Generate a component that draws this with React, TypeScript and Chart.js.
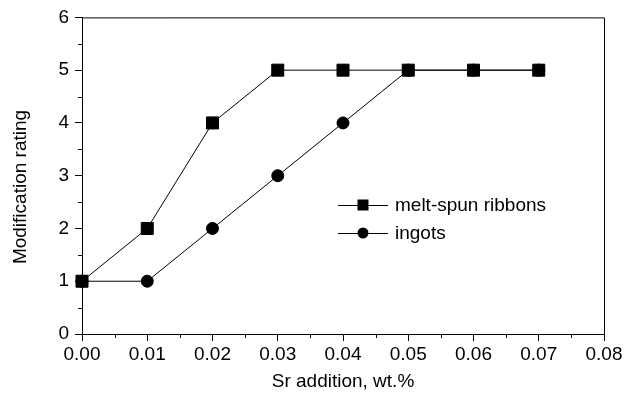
import React, { useEffect, useRef } from "react";
import { Chart, registerables } from "chart.js";

Chart.register(...registerables);

const srAddition = [0.0, 0.01, 0.02, 0.03, 0.04, 0.05, 0.06, 0.07];
const meltSpunRibbons = [1, 2, 4, 5, 5, 5, 5, 5];
const ingots = [1, 1, 2, 3, 4, 5, 5, 5];
const seriesNames = ["melt-spun ribbons", "ingots"];
const xTitle = "Sr addition, wt.%";
const yTitle = "Modification rating";

const FONT = "Arial, 'Liberation Sans', sans-serif";
const INK = "#000";

const framePlugin = {
  id: "frame",
  afterDraw(chart: any) {
    const { ctx, chartArea } = chart;
    const xs = chart.scales.x;
    const ys = chart.scales.y;
    ctx.save();
    ctx.strokeStyle = INK;
    ctx.lineWidth = 1;
    // top and right frame
    ctx.beginPath();
    ctx.moveTo(chartArea.left, chartArea.top + 0.5);
    ctx.lineTo(chartArea.right + 0.5, chartArea.top + 0.5);
    ctx.lineTo(chartArea.right + 0.5, chartArea.bottom);
    ctx.stroke();
    // minor ticks
    ctx.beginPath();
    for (let i = 0; i < 8; i++) {
      const px = Math.round(xs.getPixelForValue(0.005 + i * 0.01)) + 0.5;
      ctx.moveTo(px, chartArea.bottom);
      ctx.lineTo(px, chartArea.bottom + 4);
    }
    for (let i = 0; i < 6; i++) {
      const py = Math.round(ys.getPixelForValue(0.5 + i)) + 0.5;
      ctx.moveTo(chartArea.left, py);
      ctx.lineTo(chartArea.left - 4, py);
    }
    ctx.stroke();

    // y title
    ctx.fillStyle = INK;
    ctx.font = `19px ${FONT}`;
    ctx.textAlign = "center";
    ctx.textBaseline = "middle";
    ctx.translate(21, 187);
    ctx.rotate(-Math.PI / 2);
    ctx.fillText(yTitle, 0, 0);
    ctx.setTransform(1, 0, 0, 1, 0, 0);

    // legend
    const rows = [
      { name: seriesNames[0], style: "rect", y: 205 },
      { name: seriesNames[1], style: "circle", y: 233 },
    ];
    rows.forEach((r) => {
      ctx.beginPath();
      ctx.moveTo(338, r.y + 0.5);
      ctx.lineTo(388, r.y + 0.5);
      ctx.stroke();
      ctx.beginPath();
      if (r.style === "rect") {
        ctx.rect(363 - 5.5, r.y - 5.5, 11, 11);
      } else {
        ctx.arc(363, r.y, 5.5, 0, Math.PI * 2);
      }
      ctx.fill();
      ctx.textAlign = "left";
      ctx.textBaseline = "middle";
      ctx.fillText(r.name, 395, r.y + 1);
    });
    ctx.restore();
  },
};

export default function App() {
  const ref = useRef<HTMLCanvasElement | null>(null);
  useEffect(() => {
    if (!ref.current) return;
    const chart = new Chart(ref.current, {
      type: "line",
      data: {
        datasets: [
          {
            label: seriesNames[0],
            data: srAddition.map((x, i) => ({ x, y: meltSpunRibbons[i] })),
            borderColor: INK,
            backgroundColor: INK,
            borderWidth: 1,
            pointStyle: "rect",
            pointRadius: 8.5,
            pointBorderWidth: 1,
            pointBackgroundColor: INK,
            pointBorderColor: INK,
            clip: false,
          },
          {
            label: seriesNames[1],
            data: srAddition.map((x, i) => ({ x, y: ingots[i] })),
            borderColor: INK,
            backgroundColor: INK,
            borderWidth: 1,
            pointStyle: "circle",
            pointRadius: 6,
            pointBorderWidth: 1,
            pointBackgroundColor: INK,
            pointBorderColor: INK,
            clip: false,
          },
        ],
      },
      options: {
        responsive: false,
        animation: false,
        layout: { padding: { top: 16, right: 31, left: 0, bottom: 0 } },
        plugins: { legend: { display: false }, tooltip: { enabled: false } },
        scales: {
          x: {
            type: "linear",
            min: 0,
            max: 0.08,
            afterFit(scale: any) {
              scale.height = 68;
            },
            border: { display: true, color: INK, width: 1 },
            grid: { drawOnChartArea: false, drawTicks: true, tickLength: 7, tickColor: INK },
            ticks: {
              stepSize: 0.01,
              color: INK,
              font: { family: FONT, size: 19 },
              padding: 2,
              maxRotation: 0,
              autoSkip: false,
              callback: (v: any) => Number(v).toFixed(2),
            },
            title: {
              display: true,
              text: xTitle,
              color: INK,
              font: { family: FONT, size: 19 },
              padding: { top: 0, bottom: 9 },
            },
          },
          y: {
            min: 0,
            max: 6,
            afterFit(scale: any) {
              scale.width = 82;
            },
            border: { display: true, color: INK, width: 1 },
            grid: { drawOnChartArea: false, drawTicks: true, tickLength: 7, tickColor: INK },
            ticks: {
              stepSize: 1,
              color: INK,
              font: { family: FONT, size: 19 },
              padding: 6,
            },
          },
        },
      },
      plugins: [framePlugin],
    });
    return () => chart.destroy();
  }, []);
  return (
    <div style={{ position: "fixed", left: 0, top: 0, width: 635, height: 402, background: "#fff" }}>
      <canvas ref={ref} width={635} height={402} style={{ width: 635, height: 402 }} />
    </div>
  );
}
